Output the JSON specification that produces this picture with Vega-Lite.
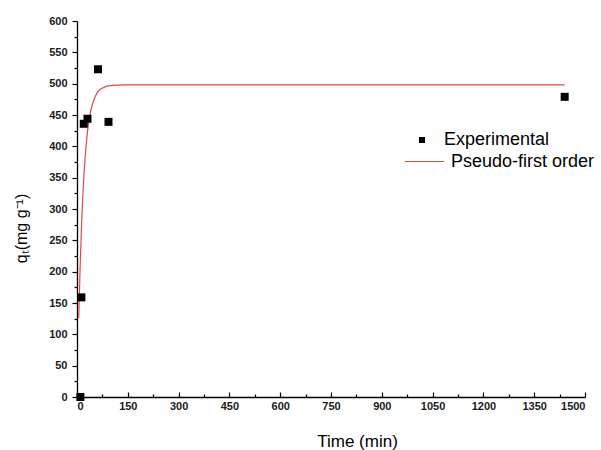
{
  "$schema": "https://vega.github.io/schema/vega-lite/v6.json",
  "width": 508,
  "height": 376,
  "autosize": "none",
  "padding": {"left": 77, "top": 21, "right": 16, "bottom": 53},
  "background": "white",
  "config": {
    "view": {"stroke": null},
    "font": "Liberation Sans",
    "axis": {
      "grid": false,
      "domainColor": "#000000",
      "domainWidth": 1.3,
      "tickColor": "#000000",
      "tickWidth": 1.2,
      "labelFont": "Liberation Sans",
      "labelFontWeight": "bold",
      "labelFontSize": 11,
      "labelColor": "#1a1a1a",
      "titleFont": "Liberation Sans",
      "titleFontWeight": "normal",
      "titleColor": "#000000"
    }
  },
  "datasets": {
    "exp": [
      {"time": 10, "q": 0, "series": "Experimental"},
      {"time": 13, "q": 159, "series": "Experimental"},
      {"time": 20, "q": 436, "series": "Experimental"},
      {"time": 31, "q": 444, "series": "Experimental"},
      {"time": 62, "q": 523, "series": "Experimental"},
      {"time": 93, "q": 439, "series": "Experimental"},
      {"time": 1440, "q": 479, "series": "Experimental"}
    ],
    "fit": [
      {"time": 5.2, "q": 126, "series": "Pseudo-first order"},
      {"time": 9, "q": 204, "series": "Pseudo-first order"},
      {"time": 14, "q": 282, "series": "Pseudo-first order"},
      {"time": 19, "q": 340, "series": "Pseudo-first order"},
      {"time": 24, "q": 382, "series": "Pseudo-first order"},
      {"time": 29, "q": 413, "series": "Pseudo-first order"},
      {"time": 34, "q": 436, "series": "Pseudo-first order"},
      {"time": 39, "q": 452, "series": "Pseudo-first order"},
      {"time": 44, "q": 464, "series": "Pseudo-first order"},
      {"time": 49, "q": 473, "series": "Pseudo-first order"},
      {"time": 59, "q": 485, "series": "Pseudo-first order"},
      {"time": 69, "q": 491, "series": "Pseudo-first order"},
      {"time": 79, "q": 494, "series": "Pseudo-first order"},
      {"time": 89, "q": 496, "series": "Pseudo-first order"},
      {"time": 99, "q": 497, "series": "Pseudo-first order"},
      {"time": 119, "q": 497.7, "series": "Pseudo-first order"},
      {"time": 149, "q": 498, "series": "Pseudo-first order"},
      {"time": 1440, "q": 498, "series": "Pseudo-first order"}
    ]
  },
  "layer": [
    {
      "data": {"name": "exp"},
      "mark": {"type": "point", "opacity": 0},
      "encoding": {
        "x": {
          "field": "time", "type": "quantitative",
          "scale": {"domain": [0, 1500], "nice": false},
          "axis": {"orient": "bottom", "values": [75, 225, 375, 525, 675, 825, 975, 1125, 1275, 1425], "labels": false, "domain": false, "tickSize": -3, "title": null}
        },
        "y": {
          "field": "q", "type": "quantitative",
          "scale": {"domain": [0, 600], "nice": false},
          "axis": {"orient": "left", "values": [25, 75, 125, 175, 225, 275, 325, 375, 425, 475, 525, 575], "labels": false, "domain": false, "tickSize": 3, "title": null}
        }
      }
    },
    {
      "data": {"name": "fit"},
      "mark": {"type": "line", "strokeWidth": 1.2, "interpolate": "monotone"},
      "encoding": {
        "x": {"field": "time", "type": "quantitative", "axis": null},
        "y": {"field": "q", "type": "quantitative", "axis": null},
        "stroke": {
          "field": "series", "type": "nominal",
          "scale": {"domain": ["Pseudo-first order"], "range": ["#e04848"]},
          "legend": {
            "title": null, "orient": "none", "legendX": 327, "legendY": 120,
            "padding": 0, "symbolType": "stroke", "symbolSize": 1521, "symbolStrokeWidth": 1.2,
            "labelFont": "Liberation Sans", "labelFontSize": 18, "labelColor": "#000000", "labelOffset": 6
          }
        }
      }
    },
    {
      "data": {"name": "exp"},
      "mark": {"type": "point", "shape": "square", "filled": true, "size": 64, "opacity": 1},
      "encoding": {
        "x": {
          "field": "time", "type": "quantitative",
          "axis": {"orient": "bottom", "format": "d", "values": [0, 150, 300, 450, 600, 750, 900, 1050, 1200, 1350, 1500], "tickSize": -5, "labelPadding": 8, "title": "Time (min)", "titleFontSize": 17, "titleX": 280, "titleY": 49, "titleBaseline": "alphabetic"}
        },
        "y": {
          "field": "q", "type": "quantitative",
          "axis": {"orient": "left", "format": "d", "values": [0, 50, 100, 150, 200, 250, 300, 350, 400, 450, 500, 550, 600], "tickSize": 5, "labelPadding": 5, "title": "qₜ(mg g⁻¹)", "titleFontSize": 16, "titleX": -51, "titleY": 207, "titleBaseline": "alphabetic"}
        },
        "color": {
          "field": "series", "type": "nominal",
          "scale": {"domain": ["Experimental"], "range": ["#000000"]},
          "legend": {
            "title": null, "orient": "none", "legendX": 336, "legendY": 110,
            "padding": 0, "symbolType": "square", "symbolSize": 36,
            "labelFont": "Liberation Sans", "labelFontSize": 18, "labelColor": "#000000", "labelOffset": 13
          }
        }
      }
    }
  ],
  "resolve": {"axis": {"x": "independent", "y": "independent"}}
}
